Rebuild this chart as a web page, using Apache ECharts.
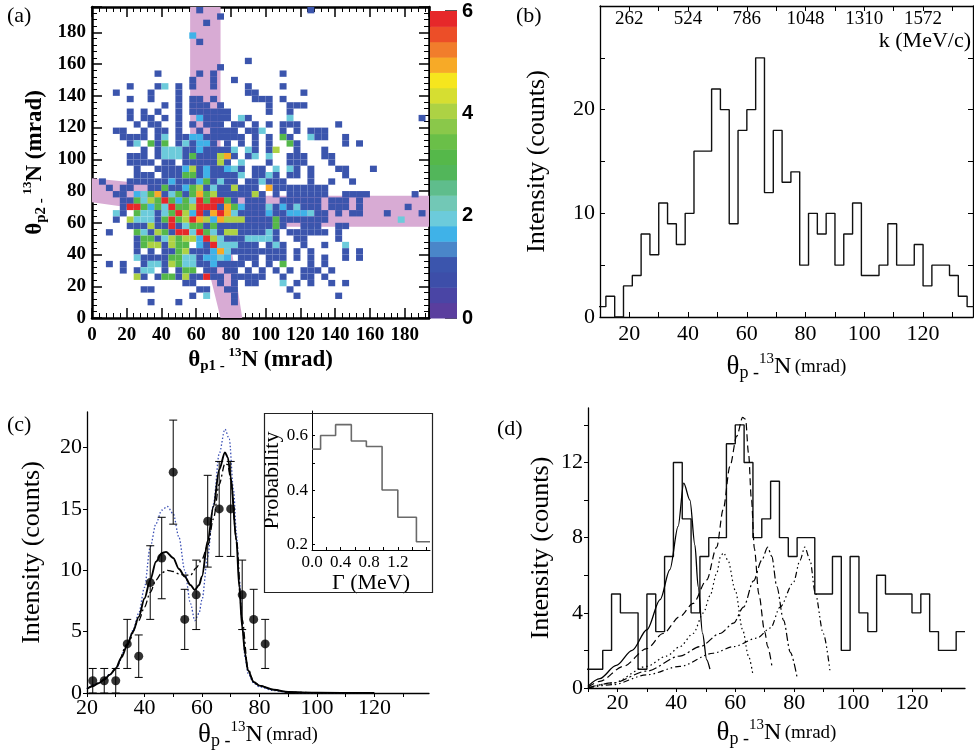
<!DOCTYPE html>
<html>
<head>
<meta charset="utf-8">
<script src="https://cdn.jsdelivr.net/npm/echarts@6/dist/echarts.min.js"></script>
<style>
    html, body { margin: 0; padding: 0; background: #fff; }
    #main { width: 974px; height: 756px; }
</style>
</head>
<body>
<div id="main"></div>
<script>
var serif = '"Liberation Serif", "DejaVu Serif", serif';
var sans = '"Liberation Sans", Arial, sans-serif';

// ---------- (a) 2D histogram, 4 mrad bins, rows ----------
// each row: [y bin index, "x bin index:colour code ..."]
var binA = 4;
var heatRows = [
    [48, '15:1 31:1'],
    [47, '18:1'],
    [46, '16:1'],
    [44, '14:b'],
    [43, '15:1'],
    [40, '22:1'],
    [39, '18:1'],
    [38, '9:1 15:1 17:1 27:1'],
    [37, '14:1 17:1 20:1'],
    [36, '5:1 9:1 10:2 12:1 14:1 17:1 22:1 27:1'],
    [35, '3:1 8:1 12:1 22:1 23:1 30:1'],
    [34, '5:1 8:1 12:1 14:1 15:1 17:1 23:1 24:1 25:1 27:1'],
    [33, '10:1 12:1 14:1 15:1 16:1 18:1 25:1 28:1 29:1 30:1'],
    [32, '5:1 7:1 9:1 12:1 14:1 15:1 16:1 17:1 18:1 19:1 25:1 28:1'],
    [31, '5:1 7:1 8:1 10:1 12:1 15:b 16:1 17:1 18:1 19:1 21:2 22:1 28:2 47:1'],
    [30, '6:1 8:1 9:1 12:1 14:1 16:1 17:1 18:1 20:1 21:1 23:1 25:1 27:1 28:1 29:1 35:1'],
    [29, '3:1 4:1 7:1 9:1 10:1 12:1 15:1 17:1 18:1 19:1 20:1 22:1 23:1 24:2 27:1 29:1 31:1 32:1 33:1'],
    [28, '4:1 5:1 6:1 7:1 9:1 10:2 12:1 13:1 14:b 15:b 16:1 17:1 18:1 19:1 20:1 21:1 23:1 25:1 27:3 28:1 31:2 32:1 33:1 36:1'],
    [27, '5:1 6:2 8:3 9:1 10:3 12:1 13:2 14:1 15:b 16:b 17:1 19:1 21:1 23:1 25:1 28:3 29:1 36:1 38:1'],
    [26, '7:1 9:1 10:2 11:2 12:2 13:1 14:1 15:b 16:1 17:1 18:1 19:1 20:2 22:2 23:1 25:1 26:4 29:1 33:1'],
    [25, '5:1 6:1 7:1 9:1 10:2 11:2 12:2 13:1 14:3 15:1 16:1 17:1 18:4 19:5 20:1 22:1 23:2 25:2 28:1 29:1 30:1 33:1 34:1'],
    [24, '5:1 6:1 7:1 8:1 10:1 11:1 13:1 14:1 15:1 16:1 17:1 18:4 19:1 21:2 25:1 28:1 29:1 30:1 34:1'],
    [23, '6:1 9:1 10:1 11:1 12:1 13:b 14:4 15:1 16:b 17:1 18:1 19:b 20:2 21:1 23:1 24:1 26:2 28:2 29:1 31:1 35:1 36:1 40:1'],
    [22, '6:1 7:1 8:1 10:1 11:1 12:1 13:3 14:3 15:1 16:b 17:1 18:1 19:1 20:1 21:2 23:1 24:1 25:2 26:1 28:1 29:1 31:1 36:1'],
    [21, '1:1 5:1 6:1 7:1 8:1 9:1 10:1 11:b 12:1 13:1 14:1 15:b 16:3 17:1 18:2 19:1 20:1 22:1 23:1 24:2 25:1 26:1 27:1 31:1 34:1 37:1'],
    [20, '2:1 4:1 5:1 8:1 9:1 10:3 11:1 12:1 13:b 14:3 15:4 16:1 17:2 18:1 19:1 20:4 21:1 22:1 23:1 25:5 26:1 27:1 28:1 29:1 30:1 31:1 32:1 33:1'],
    [19, '3:1 4:1 6:b 7:2 8:3 9:5 10:1 11:2 12:3 13:1 14:3 15:5 16:3 17:4 18:1 19:1 20:1 21:1 22:1 23:4 24:1 26:1 28:1 29:1 30:1 31:1 32:1 33:1 36:1 37:1 38:1 39:1 46:1'],
    [18, '4:1 5:1 6:3 7:2 8:4 9:3 10:6 11:3 12:b 13:3 14:2 15:6 16:3 17:6 18:6 19:3 20:1 22:1 23:1 24:1 27:1 28:1 29:1 30:1 31:1 32:1 34:1 35:1 36:1 38:1'],
    [17, '4:1 5:6 6:6 7:3 8:b 9:3 10:2 11:6 12:3 13:3 14:4 15:6 16:6 17:6 18:1 19:5 20:3 21:b 22:1 23:1 24:1 25:2 26:1 27:b 28:1 29:2 30:1 31:1 32:1 34:1 35:1 36:1 38:1 45:1'],
    [16, '3:2 4:1 6:3 7:2 8:2 9:1 10:2 11:3 12:6 13:4 14:b 15:6 16:1 17:5 18:6 19:5 20:2 21:1 22:1 23:1 24:1 25:b 26:1 27:1 28:b 29:b 30:b 31:2 32:1 33:1 35:1 37:1 38:1 42:1 47:1'],
    [15, '3:1 5:4 6:2 7:2 8:2 9:1 10:3 11:6 12:3 13:4 14:6 15:5 16:4 17:b 18:5 19:4 20:4 21:4 22:1 23:1 24:1 25:1 26:3 27:1 28:1 29:1 30:1 31:1 32:1 33:1 44:2'],
    [14, '5:1 6:1 7:1 8:4 9:1 10:1 11:6 12:1 13:2 14:3 15:3 16:1 17:3 18:1 19:1 20:1 21:1 22:1 23:1 24:1 25:1 26:3 27:1 30:1 31:1 32:1 35:1 36:1'],
    [13, '2:1 6:3 7:2 8:1 9:4 10:3 11:1 12:6 13:6 14:2 15:6 16:3 17:2 18:1 19:4 20:4 21:1 22:1 23:1 24:1 25:2 26:1 28:1 29:1 30:1 31:1 32:1 33:1 35:1'],
    [12, '6:1 7:3 8:3 9:1 10:2 11:4 12:3 13:4 14:4 15:b 16:6 17:4 18:2 19:1 20:1 21:1 22:2 23:2 24:2 25:2 26:1 29:1 30:1 35:1'],
    [11, '6:1 7:3 8:4 9:4 10:1 11:4 12:3 13:3 15:b 16:1 17:6 18:2 19:2 20:2 21:1 22:1 23:1 25:1 26:2 27:1 30:1 33:1 36:2'],
    [10, '6:1 8:1 10:1 11:1 12:3 13:4 14:1 15:1 16:1 17:b 18:5 19:2 20:1 21:1 22:1 23:1 24:1 25:1 26:1 27:1 29:1 31:1 36:1 38:1'],
    [9, '6:2 7:1 8:1 9:1 10:1 11:3 12:3 13:2 14:2 15:1 16:b 17:b 18:2 19:b 21:1 22:1 23:1 25:1 26:1 27:1 29:1 31:1 33:1 36:1 38:1'],
    [8, '2:1 4:1 7:1 8:2 9:2 10:1 11:4 12:3 13:2 14:2 15:1 16:1 17:b 18:1 19:1 20:1 21:1 23:1 25:1 27:3 31:1 33:1'],
    [7, '4:1 6:1 7:2 8:2 10:1 12:1 13:3 14:3 16:1 17:1 19:1 20:1 22:1 24:1 26:1 28:1 30:1 31:1 32:1 34:1'],
    [6, '6:4 7:1 9:1 10:3 11:3 12:1 13:4 14:1 15:1 16:6 17:1 18:1 20:1 21:1 22:1 23:1 24:1 27:1 30:1 31:1 33:1'],
    [5, '13:1 14:1 18:1 20:1 22:1 23:1 27:2 29:1 31:1 34:1 36:1'],
    [4, '7:1 8:1 15:1 16:1 19:1 20:1 28:1'],
    [3, '14:1 16:2 20:1 29:1 35:1'],
    [2, '8:1 12:1 20:1']
];
var cellCodes = { '1': 1, 'b': 1.65, '2': 2, '3': 3.1, '4': 4, '5': 5, '6': 5.9 };

// colour scale of the z axis (20 steps from 0 to 6)
var paletteStep = 0.3;
var palette = ['#5a3e9e', '#4a45a5', '#3d4ea9', '#3b55ad', '#4a86c9', '#3fb2e8', '#6ccbdb', '#72c8b6',
    '#5fbd8c', '#52b65a', '#55b84a', '#6abf48', '#8ac84a', '#add244', '#d6de31', '#f6e61e',
    '#f7aa27', '#f17d2c', '#ec4e28', '#e6282a'];

// shaded gates, mrad
var bandColor = '#d8abd4';
var vertBand = [[56.5, 196], [74, 196], [74, 88], [86.5, 0], [74, 0], [56.5, 78]];
var horizBand = [[0, 88], [100, 77], [194, 77], [194, 57.5], [100, 57.5], [0, 73]];

// ---------- (b) angular histogram, 3 mrad bins ----------
var binStart = 9;
var binWidth = 3;
var countsB = [1, 2, 0, 3, 4, 8, 6, 11, 9, 7, 10, 16, 16, 22, 20, 9, 18, 20, 25, 12, 18, 13, 14,
    5, 10, 8, 10, 5, 8, 11, 4, 4, 5, 9, 5, 5, 7, 3, 5, 5, 4, 2, 1];
var kPerMrad = 13.1;   // top axis: 20 mrad -> 262 MeV/c

// ---------- (c) data points and fits ----------
var thetaC = [22, 26, 30, 34, 38, 42, 46, 50, 54, 58, 62, 66, 70, 74, 78, 82];
var countsC = [1, 1, 1, 4, 3, 9, 11, 18, 6, 8, 14, 15, 15, 8, 6, 4];
var errC = [1, 1, 1, 2, 1.73, 3, 3.32, 4.24, 2.45, 2.83, 3.74, 3.87, 3.87, 2.83, 2.45, 2];
var fitSolidC = [[20, 0.35], [22, 0.55], [24, 0.8], [26, 1.1], [28, 1.5], [30, 2.0], [32, 2.9], [34, 3.9],
    [36, 5.0], [38, 6.2], [40, 7.7], [42, 9.2], [44, 10.7], [46, 11.4], [47.5, 11.5], [50, 11.0],
    [52, 10.1], [54, 9.5], [56, 8.8], [57.5, 8.4], [59, 8.8], [60, 9.5], [62, 12.4], [64, 15.2],
    [66, 18.2], [68, 19.6], [69, 19.2], [70, 17.6], [72, 12.4], [73, 8.6], [74, 5.4], [75, 3.2],
    [76, 1.85], [78, 0.9], [80, 0.6], [85, 0.27], [90, 0.08], [100, 0.02], [120, 0]];
var fitDottedC = [[20, 0.35], [24, 0.8], [28, 1.5], [30, 2.0], [34, 3.9], [36, 5.1], [38, 6.5], [40, 8.6],
    [42, 11.9], [44, 13.8], [46, 14.9], [48, 15.2], [50, 14.6], [52, 12.7], [54, 10.0], [56, 7.3],
    [57.5, 5.9], [59, 6.5], [60, 7.6], [62, 11.1], [64, 15.4], [66, 19.5], [68, 21.5], [69.5, 20.7],
    [71, 16.5], [72, 13.0], [73, 9.2], [74, 5.7], [75, 2.9], [76, 1.6], [78, 0.8], [80, 0.5],
    [85, 0.2], [90, 0.05], [100, 0.01], [120, 0]];
var fitDashDotC = [[20, 0.35], [24, 0.8], [28, 1.5], [30, 2.0], [34, 4.0], [38, 5.9], [40, 7.0], [42, 8.2],
    [44, 9.2], [46, 9.8], [48, 10.0], [50, 9.9], [52, 9.7], [54, 9.6], [56, 9.6], [58, 10.2], [60, 10.9],
    [62, 12.0], [64, 14.2], [66, 17.0], [68, 18.7], [69, 18.6], [70, 17.4], [72, 12.5], [74, 6.0],
    [76, 2.0], [78, 0.9], [80, 0.6], [85, 0.25], [90, 0.07], [100, 0.02], [120, 0]];

// inset: width distribution
var gammaEdges = [0, 0.12, 0.33, 0.55, 0.76, 0.98, 1.2, 1.46, 1.65];
var gammaProb = [0.55, 0.60, 0.64, 0.58, 0.56, 0.40, 0.30, 0.21];

// ---------- (d) histogram and single-level fits ----------
var countsD = [1, 1, 2, 5, 4, 4, 1, 5, 3, 7, 12, 9, 4, 7, 8, 8, 13, 14, 12, 8, 9, 11, 8, 7, 8, 8,
    5, 5, 7, 2, 7, 4, 3, 6, 5, 5, 5, 4, 5, 3, 2, 2, 3];
var fitD1 = [[10, 0.1], [14, 0.5], [19.6, 1.2], [25, 2.0], [30, 3.1], [34.5, 4.7], [37.8, 6.3], [40.6, 8.6],
    [42.5, 10.9], [44.6, 10.0], [46.3, 7.6], [47.4, 5.4], [48.9, 2.9], [50.3, 1.5], [51.4, 1.0]];
var fitD2 = [[10, 0.05], [14, 0.35], [22, 1.15], [30, 2.1], [35.5, 2.9], [41.2, 3.8], [45.7, 4.5], [50.3, 5.75],
    [53.7, 7.5], [55.9, 9.5], [58.2, 11.8], [60.5, 13.4], [62.5, 14.4], [63.5, 14.3], [64.5, 12.5],
    [65.5, 10], [66.5, 7.4], [68, 5], [70, 3.0], [71, 2.2], [72.4, 1.2]];
var fitD3 = [[10, 0.02], [18.5, 0.27], [29.9, 1.15], [36.7, 1.7], [41.2, 2.2], [45.7, 2.9], [49.2, 4.0],
    [51.4, 4.9], [53.7, 6.1], [55, 7.0], [56, 7.2], [57.5, 6.8], [60, 5.2], [62.5, 3.1], [64.5, 1.7], [66, 0.7]];
var fitD4 = [[10, 0.02], [18.5, 0.27], [29.9, 0.9], [41.2, 1.7], [48, 2.2], [54.8, 2.9], [59.4, 3.45],
    [62.8, 4.3], [66.2, 5.7], [69, 6.8], [71, 7.5], [72.4, 7.0], [74.1, 5.4], [76.4, 3.6], [78.7, 1.9], [81, 0.55]];
var fitD5 = [[10, 0.01], [18.5, 0.18], [29.9, 0.7], [41.2, 1.15], [52.5, 1.85], [59.4, 2.2], [67.3, 2.65],
    [72, 3.2], [75.2, 4.3], [79.7, 5.6], [82, 6.8], [83.6, 7.5], [85.4, 6.8], [87.1, 5.1], [89.9, 2.9], [92.2, 0.85]];


function parseCells() {
    var cells = [];
    for (var r = 0; r < heatRows.length; r++) {
        var j = heatRows[r][0];
        var parts = heatRows[r][1].split(' ');
        for (var k = 0; k < parts.length; k++) {
            var p = parts[k].split(':');
            cells.push([Number(p[0]) * binA, j * binA, cellCodes[p[1]]]);
        }
    }
    return cells;
}

function cellColor(v) {
    var k = Math.min(palette.length - 1, Math.floor(v / paletteStep));
    return palette[k];
}

function stepPoints(start, width, counts) {
    var pts = [];
    for (var i = 0; i < counts.length; i++) {
        pts.push([start + i * width, counts[i]]);
        pts.push([start + (i + 1) * width, counts[i]]);
    }
    return pts;
}

function stepEdges(edges, values) {
    var pts = [];
    for (var i = 0; i < values.length; i++) {
        pts.push([edges[i], values[i]]);
        pts.push([edges[i + 1], values[i]]);
    }
    return pts;
}

function renderCell(params, api) {
    var x0 = api.value(0), y0 = api.value(1);
    var a = api.coord([x0, y0 + binA]);
    var b = api.coord([x0 + binA, y0]);
    return {
        type: 'rect',
        shape: { x: a[0], y: a[1], width: b[0] - a[0], height: b[1] - a[1] },
        style: { fill: cellColor(api.value(2)) }
    };
}

var bands = [vertBand, horizBand];
function renderBand(params, api) {
    var pts = bands[params.dataIndex].map(function (p) { return api.coord(p); });
    return { type: 'polygon', shape: { points: pts }, style: { fill: bandColor } };
}

function renderColorStep(params, api) {
    var a = api.coord([0, api.value(1)]);
    var b = api.coord([1, api.value(0)]);
    return {
        type: 'rect',
        shape: { x: a[0], y: a[1], width: b[0] - a[0], height: b[1] - a[1] + 0.5 },
        style: { fill: palette[params.dataIndex] }
    };
}

function renderErr(params, api) {
    var x = api.value(0), y = api.value(1), e = api.value(2);
    var top = api.coord([x, y + e]);
    var bot = api.coord([x, y - e]);
    var cap = 4;
    var st = { stroke: '#000', lineWidth: 1 };
    return {
        type: 'group',
        children: [
            { type: 'line', shape: { x1: top[0], y1: top[1], x2: bot[0], y2: bot[1] }, style: st },
            { type: 'line', shape: { x1: top[0] - cap, y1: top[1], x2: top[0] + cap, y2: top[1] }, style: st },
            { type: 'line', shape: { x1: bot[0] - cap, y1: bot[1], x2: bot[0] + cap, y2: bot[1] }, style: st }
        ]
    };
}

// rich text for the theta axis titles
var richA = {
    t: { fontFamily: serif, fontWeight: 'bold', fontSize: 23, lineHeight: 28, color: '#000' },
    s: { fontFamily: serif, fontWeight: 'bold', fontSize: 15, lineHeight: 15, verticalAlign: 'bottom', color: '#000' },
    u: { fontFamily: serif, fontWeight: 'bold', fontSize: 13, lineHeight: 14, verticalAlign: 'top', color: '#000' }
};
var richT = {
    t: { fontFamily: serif, fontSize: 27, lineHeight: 30, color: '#000' },
    n: { fontFamily: serif, fontSize: 24, lineHeight: 30, color: '#000' },
    s: { fontFamily: serif, fontSize: 18, lineHeight: 17, verticalAlign: 'bottom', color: '#000' },
    u: { fontFamily: serif, fontSize: 15, lineHeight: 15, verticalAlign: 'top', color: '#000' },
    m: { fontFamily: serif, fontSize: 19, lineHeight: 30, color: '#000' }
};
var thetaName = '{t|θ}{s|p -}{u|13}{n|N} {m|(mrad)}';

function frameAxis(extra) {
    var base = {
        type: 'value',
        splitLine: { show: false },
        axisLine: { show: true, onZero: false, lineStyle: { color: '#000', width: 1.3 } },
        axisTick: { show: true, inside: true, length: 5, lineStyle: { color: '#000', width: 1 } },
        axisLabel: { show: true, showMaxLabel: false, color: '#000', fontFamily: serif, fontSize: 22 }
    };
    for (var key in extra) {
        if (typeof extra[key] === 'object' && base[key] && !Array.isArray(extra[key])) {
            base[key] = Object.assign({}, base[key], extra[key]);
        } else {
            base[key] = extra[key];
        }
    }
    return base;
}

function everyOther(step) {
    return function (v) { return Math.round(v) % step === 0 ? String(Math.round(v)) : ''; };
}

function drawFigure(id) {
    var myChart = echarts.init(document.getElementById(id));
    var cells = parseCells();
    var colorSteps = palette.map(function (c, k) { return [k * paletteStep, (k + 1) * paletteStep]; });
    var boldA = { color: '#000', fontFamily: serif, fontWeight: 'bold', fontSize: 19 };
    var thickA = { show: true, onZero: false, lineStyle: { color: '#000', width: 2.5 } };
    var tickA = { show: true, inside: true, length: 10, lineStyle: { color: '#000', width: 1.5 } };
    var minorA = { show: true, splitNumber: 5, length: 5, lineStyle: { color: '#000', width: 1 } };

    var option = {
        animation: false,
        backgroundColor: '#fff',
        grid: [
            { left: 92, top: 7, width: 337, height: 311 },      // a
            { left: 430, top: 11, width: 27, height: 307 },     // a colour scale
            { left: 600, top: 6, width: 373, height: 311 },     // b
            { left: 87, top: 412, width: 342, height: 281 },    // c
            { left: 312, top: 411, width: 118, height: 139 },   // c inset
            { left: 588, top: 408, width: 377, height: 280 }    // d
        ],
        xAxis: [
            frameAxis({ gridIndex: 0, min: 0, max: 194, interval: 20, axisLine: thickA, axisTick: tickA,
                minorTick: minorA, axisLabel: Object.assign({ margin: 8 }, boldA),
                name: '{t|θ}{s|p1 - }{u|13}{t|N}{t| (mrad)}', nameLocation: 'middle', nameGap: 27,
                nameTextStyle: { rich: richA } }),
            frameAxis({ gridIndex: 0, position: 'top', min: 0, max: 194, interval: 20, axisLine: thickA,
                axisTick: tickA, minorTick: minorA, axisLabel: { show: false } }),
            { type: 'value', gridIndex: 1, min: 0, max: 1, show: false },
            frameAxis({ gridIndex: 2, min: 10, max: 137, interval: 10,
                axisLabel: { formatter: everyOther(20), margin: 6 },
                name: thetaName, nameLocation: 'middle', nameGap: 35, nameTextStyle: { rich: richT } }),
            frameAxis({ gridIndex: 2, position: 'top', min: 10, max: 137, interval: 10,
                axisLabel: { fontSize: 19, margin: 4, inside: true,
                    formatter: function (v) { return Math.round(v) % 20 === 0 ? String(Math.round(v * kPerMrad)) : ''; } } }),
            frameAxis({ gridIndex: 3, min: 20, max: 139, interval: 10,
                axisTick: { inside: false, length: 4 },
                axisLabel: { formatter: everyOther(20), margin: 4 },
                name: thetaName, nameLocation: 'middle', nameGap: 27, nameTextStyle: { rich: richT } }),
            frameAxis({ gridIndex: 4, min: 0, max: 1.65, interval: 0.2,
                axisLine: { lineStyle: { color: '#000', width: 1 } },
                axisTick: { length: 3 },
                axisLabel: { fontSize: 17, margin: 4,
                    formatter: function (v) { var t = Math.round(v * 10); return (t % 4 === 0 && t < 14) ? (t / 10).toFixed(1) : ''; } },
                name: 'Γ (MeV)', nameLocation: 'middle', nameGap: 18,
                nameTextStyle: { fontFamily: serif, fontSize: 22, color: '#000' } }),
            frameAxis({ gridIndex: 5, min: 10, max: 138, interval: 10,
                axisTick: { inside: false, length: 4 },
                axisLabel: { formatter: everyOther(20), margin: 4 },
                name: thetaName, nameLocation: 'middle', nameGap: 30, nameTextStyle: { rich: richT } })
        ],
        yAxis: [
            frameAxis({ gridIndex: 0, min: 0, max: 196, interval: 20, axisLine: thickA, axisTick: tickA,
                minorTick: minorA, axisLabel: Object.assign({ margin: 6, showMaxLabel: false }, boldA),
                name: '{t|θ}{s|p2 - }{u|13}{t|N}{t| (mrad)}', nameLocation: 'middle', nameGap: 43,
                nameTextStyle: { rich: richA } }),
            frameAxis({ gridIndex: 0, position: 'right', min: 0, max: 196, interval: 20, axisLine: thickA,
                axisTick: tickA, minorTick: minorA, axisLabel: { show: false } }),
            frameAxis({ gridIndex: 1, position: 'right', min: 0, max: 6, interval: 2,
                axisLine: { show: false },
                axisTick: { inside: true, length: 12, lineStyle: { color: '#222', width: 1.5 } },
                axisLabel: { fontFamily: sans, fontWeight: 'bold', fontSize: 20, margin: 5, showMaxLabel: true } }),
            frameAxis({ gridIndex: 2, min: 0, max: 30, interval: 5,
                axisLabel: { formatter: everyOther(10), margin: 5 },
                name: 'Intensity (counts)', nameLocation: 'middle', nameGap: 50,
                nameTextStyle: { fontFamily: serif, fontSize: 26, color: '#000' } }),
            frameAxis({ gridIndex: 2, position: 'right', min: 0, max: 30, interval: 5, axisLabel: { show: false } }),
            frameAxis({ gridIndex: 3, min: 0, max: 22.9, interval: 5,
                axisTick: { inside: false, length: 4 },
                axisLabel: { margin: 5 },
                name: 'Intensity (counts)', nameLocation: 'middle', nameGap: 42,
                nameTextStyle: { fontFamily: serif, fontSize: 26, color: '#000' } }),
            frameAxis({ gridIndex: 4, min: 0.18, max: 0.69,
                axisLine: { lineStyle: { color: '#000', width: 1 } },
                axisTick: { length: 3, customValues: [0.2, 0.3, 0.4, 0.5, 0.6] },
                axisLabel: { fontSize: 17, margin: 4, showMaxLabel: true, customValues: [0.2, 0.4, 0.6],
                    formatter: function (v) { return v.toFixed(1); } },
                name: 'Probability', nameLocation: 'middle', nameGap: 24,
                nameTextStyle: { fontFamily: serif, fontSize: 22, color: '#000' } }),
            frameAxis({ gridIndex: 5, min: 0, max: 14.9, interval: 2,
                axisTick: { inside: false, length: 4 },
                axisLabel: { formatter: everyOther(4), margin: 5 },
                name: 'Intensity (counts)', nameLocation: 'middle', nameGap: 34,
                nameTextStyle: { fontFamily: serif, fontSize: 26, color: '#000' } })
        ],
        graphic: [
            { type: 'text', left: 7, top: 5, style: { text: '(a)', font: '22px ' + serif, fill: '#000' } },
            { type: 'text', left: 516, top: 5, style: { text: '(b)', font: '22px ' + serif, fill: '#000' } },
            { type: 'text', left: 7, top: 414, style: { text: '(c)', font: '22px ' + serif, fill: '#000' } },
            { type: 'text', left: 497, top: 418, style: { text: '(d)', font: '22px ' + serif, fill: '#000' } },
            { type: 'text', right: 3, top: 30, style: { text: 'k (MeV/c)', font: '22px ' + serif, fill: '#000' } },
            { type: 'rect', left: 262, top: 411, shape: { width: 168, height: 179 },
                style: { fill: 'none', stroke: '#222', lineWidth: 1.2 }, z: 10 }
        ],
        series: [
            // (a)
            { type: 'custom', xAxisIndex: 0, yAxisIndex: 0, clip: true, z: 1,
                data: bands.map(function (b) { return [b[0][0], b[0][1]]; }), renderItem: renderBand },
            { type: 'custom', xAxisIndex: 0, yAxisIndex: 0, clip: true, z: 2,
                data: cells, encode: { x: 0, y: 1 }, renderItem: renderCell },
            { type: 'custom', xAxisIndex: 2, yAxisIndex: 2, z: 1,
                data: colorSteps, encode: { y: [0, 1] }, renderItem: renderColorStep },
            // (b)
            { type: 'line', xAxisIndex: 3, yAxisIndex: 3, clip: true, symbol: 'none',
                lineStyle: { color: '#111', width: 1.4 }, data: stepPoints(binStart, binWidth, countsB) },
            // (c)
            { type: 'line', xAxisIndex: 5, yAxisIndex: 5, clip: true, symbol: 'none', smooth: 0.3,
                smoothMonotone: 'x', lineStyle: { color: '#3a4fb5', width: 1.3, type: [1.5, 2] }, data: fitDottedC },
            { type: 'line', xAxisIndex: 5, yAxisIndex: 5, clip: true, symbol: 'none', smooth: 0.3,
                smoothMonotone: 'x', lineStyle: { color: '#000', width: 1.3, type: [7, 3, 2, 3] }, data: fitDashDotC },
            { type: 'line', xAxisIndex: 5, yAxisIndex: 5, clip: true, symbol: 'none', smooth: 0.3,
                smoothMonotone: 'x', lineStyle: { color: '#000', width: 1.9 }, data: fitSolidC },
            { type: 'custom', xAxisIndex: 5, yAxisIndex: 5, z: 4,
                data: thetaC.map(function (t, i) { return [t, countsC[i], errC[i]]; }),
                encode: { x: 0, y: 1 }, renderItem: renderErr },
            { type: 'scatter', xAxisIndex: 5, yAxisIndex: 5, z: 5, symbol: 'circle', symbolSize: 9,
                itemStyle: { color: '#000' },
                data: thetaC.map(function (t, i) { return [t, countsC[i]]; }) },
            // (c) inset
            { type: 'line', xAxisIndex: 6, yAxisIndex: 6, clip: true, symbol: 'none',
                lineStyle: { color: '#6a6a6a', width: 1.6 }, data: stepEdges(gammaEdges, gammaProb) },
            // (d)
            { type: 'line', xAxisIndex: 7, yAxisIndex: 7, clip: true, symbol: 'none',
                lineStyle: { color: '#111', width: 1.4 }, data: stepPoints(binStart, binWidth, countsD) },
            { type: 'line', xAxisIndex: 7, yAxisIndex: 7, clip: true, symbol: 'none', smooth: 0.3, smoothMonotone: 'x',
                lineStyle: { color: '#000', width: 1.3 }, data: fitD1 },
            { type: 'line', xAxisIndex: 7, yAxisIndex: 7, clip: true, symbol: 'none', smooth: 0.3, smoothMonotone: 'x',
                lineStyle: { color: '#000', width: 1.2, type: [7, 4] }, data: fitD2 },
            { type: 'line', xAxisIndex: 7, yAxisIndex: 7, clip: true, symbol: 'none', smooth: 0.3, smoothMonotone: 'x',
                lineStyle: { color: '#000', width: 1.2, type: [1.5, 3] }, data: fitD3 },
            { type: 'line', xAxisIndex: 7, yAxisIndex: 7, clip: true, symbol: 'none', smooth: 0.3, smoothMonotone: 'x',
                lineStyle: { color: '#000', width: 1.2, type: [8, 3, 2, 3] }, data: fitD4 },
            { type: 'line', xAxisIndex: 7, yAxisIndex: 7, clip: true, symbol: 'none', smooth: 0.3, smoothMonotone: 'x',
                lineStyle: { color: '#000', width: 1.2, type: [6, 3, 1.5, 3, 1.5, 3] }, data: fitD5 }
        ]
    };

    myChart.setOption(option);
    window.addEventListener('resize', function () { myChart.resize(); });
}

drawFigure('main');
</script>
</body>
</html>
